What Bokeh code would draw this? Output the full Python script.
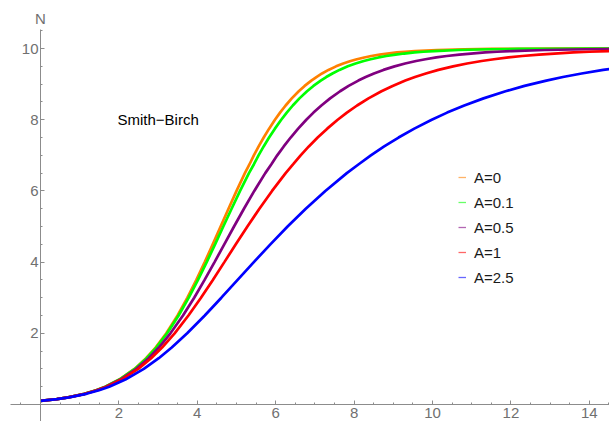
from bokeh.plotting import figure
from bokeh.models import Legend, LegendItem, Label, SingleIntervalTicker, Range1d
from bokeh.embed import file_html
from bokeh.resources import INLINE

# ---- data (population N versus time) ----
n_levels = [0.1, 0.15, 0.2, 0.3, 0.4, 0.5, 0.7, 1.0, 1.3, 1.6, 2.0, 2.5, 3.0, 3.5,
            4.0, 4.5, 5.0, 5.5, 6.0, 6.5, 6.75, 7.0, 7.25, 7.5, 7.75, 8.0, 8.2,
            8.4, 8.6, 8.8, 8.95, 9.1, 9.2, 9.3, 9.4, 9.5, 9.58, 9.65, 9.7, 9.75,
            9.79, 9.83, 9.86, 9.89, 9.91, 9.93, 9.96, 9.98, 9.99, 9.995, 9.998,
            9.999, 9.9995, 9.9998]

t_a0 = [0, 0.411, 0.703, 1.119, 1.417, 1.651, 2.008, 2.398, 2.694, 2.937, 3.209,
        3.497, 3.748, 3.976, 4.190, 4.394, 4.595, 4.796, 5.001, 5.214, 5.333,
        5.442, 5.565, 5.694, 5.832, 5.981, 6.111, 6.253, 6.410, 6.588, 6.738,
        6.909, 7.038, 7.182, 7.347, 7.540, 7.722, 7.912, 8.071, 8.259, 8.437,
        8.653, 8.850, 9.094, 9.297, 9.550, 10.113, 10.808, 11.502, 12.196,
        13.112, 13.805, 14.499, 15.415]
t_a01 = [0, 0.411, 0.704, 1.121, 1.420, 1.655, 2.015, 2.407, 2.707, 2.953, 3.230,
         3.524, 3.782, 4.018, 4.240, 4.453, 4.663, 4.875, 5.091, 5.318, 5.445,
         5.562, 5.693, 5.831, 5.980, 6.141, 6.282, 6.436, 6.606, 6.799, 6.962,
         7.149, 7.289, 7.447, 7.627, 7.838, 8.038, 8.246, 8.421, 8.627, 8.822,
         9.059, 9.276, 9.544, 9.767, 10.045, 10.664, 11.428, 12.192, 12.955,
         13.963, 14.725, 15.488]
t_a05 = [0, 0.413, 0.708, 1.129, 1.432, 1.671, 2.040, 2.446, 2.759, 3.019, 3.315,
         3.635, 3.921, 4.186, 4.440, 4.688, 4.937, 5.190, 5.454, 5.734, 5.890,
         6.039, 6.205, 6.382, 6.573, 6.781, 6.964, 7.165, 7.388, 7.643, 7.860,
         8.108, 8.295, 8.506, 8.748, 9.032, 9.302, 9.583, 9.820, 10.098, 10.364,
         10.685, 10.979, 11.344, 11.647, 12.026, 12.868, 13.910, 14.951]
t_a1 = [0, 0.416, 0.713, 1.139, 1.448, 1.692, 2.071, 2.493, 2.823, 3.101, 3.422,
        3.774, 4.094, 4.397, 4.690, 4.982, 5.278, 5.584, 5.907, 6.254, 6.447,
        6.636, 6.845, 7.070, 7.314, 7.581, 7.816, 8.076, 8.367, 8.698, 8.982,
        9.307, 9.553, 9.831, 10.150, 10.525, 10.882, 11.254, 11.568, 11.938,
        12.290, 12.717, 13.108, 13.594, 13.997, 14.502, 15.624]
t_a25 = [0, 0.423, 0.729, 1.170, 1.494, 1.754, 2.165, 2.636, 3.017, 3.348, 3.742,
         4.191, 4.614, 5.028, 5.442, 5.864, 6.303, 6.767, 7.266, 7.814, 8.118,
         8.427, 8.767, 9.134, 9.536, 9.980, 10.373, 10.810, 11.301, 11.863,
         12.347, 12.904, 13.327, 13.805, 14.355, 15.004, 15.622]

series_labels = ["A=0", "A=0.1", "A=0.5", "A=1", "A=2.5"]
series_times = [t_a0, t_a01, t_a05, t_a1, t_a25]
series_colors = ["#FF8000", "#00FF00", "#800080", "#FF0000", "#0000FF"]

title_text = "Smith\u2212Birch"
y_axis_label = "N"

FONT = "Liberation Sans"

p = figure(width=609, height=421,
           x_range=Range1d(-1.02, 14.515), y_range=Range1d(-0.478, 11.35),
           output_backend="svg", toolbar_location=None,
           min_border=0, min_border_left=0, min_border_right=0,
           min_border_top=0, min_border_bottom=0)
p.outline_line_color = None
p.grid.visible = False
p.background_fill_color = "white"
p.border_fill_color = "white"

for ax, bnds in ((p.xaxis[0], (-0.77, 14.515)), (p.yaxis[0], (-0.478, 10.53))):
    ax.fixed_location = 0
    ax.bounds = bnds
    ax.ticker = SingleIntervalTicker(interval=2, num_minor_ticks=4)
    ax.major_label_overrides = {0: ""}
    ax.axis_line_color = "#8c8c8c"
    ax.major_tick_line_color = "#8c8c8c"
    ax.minor_tick_line_color = "#8c8c8c"
    ax.major_tick_in = 4
    ax.major_tick_out = 0
    ax.minor_tick_in = 2
    ax.minor_tick_out = 0
    ax.major_label_text_font = FONT
    ax.major_label_text_font_size = "15px"
    ax.major_label_text_color = "#707070"
p.xaxis[0].major_label_standoff = 4
p.yaxis[0].major_label_standoff = 2

for ts, col in zip(series_times, series_colors):
    p.line(ts, n_levels[:len(ts)], line_color=col, line_width=2.7)

legend_items = []
nan = float("nan")
for lab, col in zip(series_labels, series_colors):
    r = p.line(x=[nan], y=[nan], line_color=col, line_width=1.3, line_alpha=0.6)
    legend_items.append(LegendItem(label=lab, renderers=[r]))

legend = Legend(items=legend_items, location=(458, 134),
                border_line_color=None, background_fill_alpha=0,
                padding=0, margin=0, spacing=5,
                glyph_width=8, glyph_height=20, label_height=20,
                label_standoff=8, label_text_font=FONT,
                label_text_font_size="15px", label_text_color="#1a1a1a",
                label_text_baseline="middle")
p.add_layout(legend, "center")

p.add_layout(Label(x=3, y=8, text=title_text, text_align="center",
                   text_baseline="middle", text_font=FONT,
                   text_font_size="15px", text_color="black"))
p.add_layout(Label(x=0, y=10.84, text=y_axis_label, text_align="center",
                   text_baseline="middle", text_font=FONT,
                   text_font_size="15px", text_color="#707070"))

open("out.html", "w").write(file_html(p, INLINE))
